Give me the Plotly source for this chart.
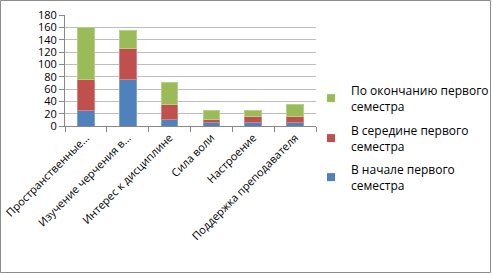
import plotly.graph_objects as go

categories = ["Пространственные…", "Изучение черчения в…", "Интерес к дисциплине",
              "Сила воли", "Настроение", "Поддержка преподавателя"]
start_vals = [25, 75, 10, 5, 5, 5]
middle_vals = [50, 50, 25, 5, 10, 10]
end_vals = [85, 30, 35, 15, 10, 20]
series_names = ["В начале первого<br>семестра", "В середине первого<br>семестра",
                "По окончанию первого<br>семестра"]
y_ticks = [0, 20, 40, 60, 80, 100, 120, 140, 160, 180]

colors = ["#4F81BD", "#C0504D", "#9BBB59"]
edge = ["#7FA3D0", "#D48381", "#B7CF88"]

L, R, T, B = 65, 177, 15, 149
W, H = 493, 275
pw, ph = W - L - R, H - T - B

fig = go.Figure()
for name, vals, c, e in zip(series_names, [start_vals, middle_vals, end_vals], colors, edge):
    fig.add_trace(go.Bar(x=categories, y=vals, name=name, showlegend=False,
                         marker=dict(color=c, line=dict(color=e, width=1))))

# one legend box per series, top to bottom: end, middle, start
legend_ids = ["legend3", "legend2", "legend"]
legend_tops = [155, 116, 76]  # pixel tops for start, middle, end entries
legend_layout = {}
for name, c, lid, top in zip(series_names, colors, legend_ids, legend_tops):
    fig.add_trace(go.Scatter(x=[None], y=[None], mode="markers", name=name, legend=lid,
                             marker=dict(symbol="square", size=8, color=c)))
    legend_layout[lid] = dict(x=(311 - L) / pw, y=(H - B - top) / ph, xanchor="left",
                              yanchor="top", font=dict(size=12), itemwidth=30,
                              bgcolor="rgba(0,0,0,0)")

fig.update_layout(
    width=W, height=H,
    margin=dict(l=L, r=R, t=T, b=B, autoexpand=False),
    barmode="stack", bargap=0.6,
    plot_bgcolor="white", paper_bgcolor="white",
    font=dict(family="Open Sans, Liberation Sans, sans-serif", size=11, color="#000"),
    xaxis=dict(tickangle=-45, ticks="outside", tickson="boundaries", ticklen=5,
               tickcolor="#888", showline=True, linecolor="#888", linewidth=1,
               tickfont=dict(size=11), automargin=False),
    yaxis=dict(range=[0, 180], tickvals=y_ticks, ticks="outside", ticklen=5,
               tickcolor="#888", showline=True, linecolor="#888", linewidth=1,
               showgrid=True, gridcolor="#BDBDBD", gridwidth=1,
               tickfont=dict(size=11), zeroline=False, automargin=False),
    shapes=[dict(type="rect", xref="paper", yref="paper",
                 x0=(0.5 - L) / pw, x1=(W - 2.5 - L) / pw,
                 y0=-(H - 2.5 - T - ph) / ph, y1=1 + (T - 0.5) / ph,
                 line=dict(color="#8C8C8C", width=1))],
    **legend_layout,
)
fig.write_html("out.html", config={"displayModeBar": False},
               post_script="document.body.style.margin='0';document.body.style.overflow='hidden';")
